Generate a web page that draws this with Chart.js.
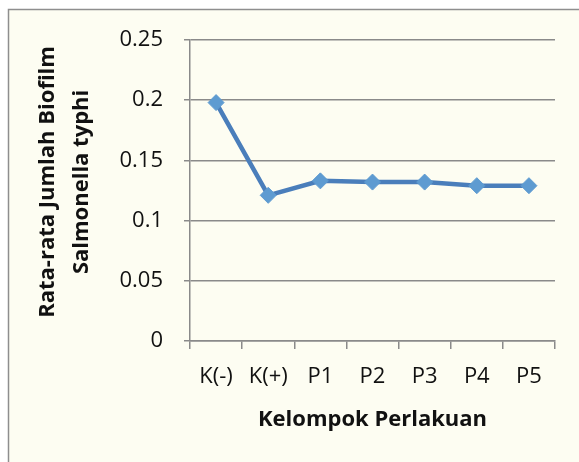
<!DOCTYPE html>
<html>
<head>
<meta charset="utf-8">
<script src="https://cdn.jsdelivr.net/npm/chart.js@4.4.0/dist/chart.umd.min.js"></script>
<style>
  html, body { margin: 0; padding: 0; background: #ffffff; }
  #wrap { width: 579px; height: 462px; position: relative; }
</style>
</head>
<body>
<div id="wrap"><canvas id="biofilmChart" width="579" height="462"></canvas></div>
<script>
// data
var kelompok = ['K(-)', 'K(+)', 'P1', 'P2', 'P3', 'P4', 'P5'];
var rataRata = [0.198, 0.121, 0.133, 0.132, 0.132, 0.129, 0.129];
var yTitle = ['   Rata-rata Jumlah Biofilm', '   Salmonella typhi'];
var xTitle = 'Kelompok Perlakuan';

var fontName = '"Open Sans"';

// cream paper + grey frame behind the chart
var frame = {
    id: 'frame',
    beforeDraw: function(chart) {
        var c = chart.ctx;
        c.save();
        c.fillStyle = '#ffffff';
        c.fillRect(0, 0, chart.width, chart.height);
        c.fillStyle = '#fdfdf2';
        c.fillRect(9, 10, chart.width - 9, chart.height - 10);
        c.strokeStyle = '#8e8e8e';
        c.lineWidth = 1.5;
        c.beginPath();
        c.moveTo(8.5, chart.height);
        c.lineTo(8.5, 9.5);
        c.lineTo(chart.width, 9.5);
        c.stroke();
        c.restore();
    }
};

new Chart(document.getElementById('biofilmChart').getContext('2d'), {
    type: 'line',
    data: {
        labels: kelompok,
        datasets: [{
            data: rataRata,
            borderColor: '#4a7ebb',
            borderWidth: 4.5,
            pointStyle: 'rectRot',
            pointRadius: 8,
            pointBackgroundColor: '#5e9bd1',
            pointBorderColor: '#5e9bd1',
            pointBorderWidth: 1,
            tension: 0
        }]
    },
    options: {
        responsive: false,
        animation: false,
        layout: { padding: { left: 20, top: 40, right: 24, bottom: 28 } },
        plugins: {
            legend: { display: false },
            tooltip: { enabled: false }
        },
        scales: {
            x: {
                offset: true,
                grid: {
                    offset: true,
                    drawOnChartArea: false,
                    drawTicks: true,
                    tickLength: 8,
                    color: '#8a8a8a',
                    lineWidth: 1.5
                },
                border: { color: '#8a8a8a', width: 1.5 },
                ticks: {
                    color: '#111',
                    padding: 15,
                    font: { family: fontName, size: 22 },
                    maxRotation: 0
                },
                title: {
                    display: true,
                    text: xTitle,
                    color: '#111',
                    font: { family: fontName, size: 22, weight: 'bold' },
                    padding: { top: 4, bottom: 1 }
                },
                afterFit: function(scale) { scale.height = 93; }
            },
            y: {
                min: 0,
                max: 0.25,
                ticks: {
                    stepSize: 0.05,
                    color: '#111',
                    padding: 21,
                    font: { family: fontName, size: 22 },
                    callback: function(v) { return String(Math.round(v * 100) / 100); }
                },
                grid: {
                    color: '#8a8a8a',
                    lineWidth: 1.5,
                    tickLength: 6
                },
                border: { color: '#8a8a8a', width: 1.5 },
                title: {
                    display: true,
                    text: yTitle,
                    color: '#111',
                    font: { family: fontName, size: 22, weight: 'bold', lineHeight: 1.55 },
                    padding: { top: 11, bottom: 6 }
                },
                afterFit: function(scale) { scale.width = 170; }
            }
        }
    },
    plugins: [frame]
});
</script>
</body>
</html>
